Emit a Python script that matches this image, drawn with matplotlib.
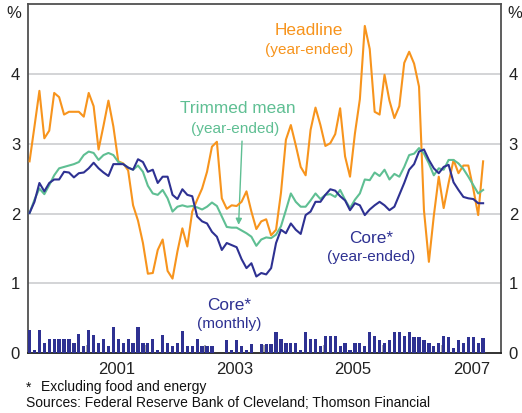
import matplotlib
matplotlib.use("Agg")
import matplotlib.pyplot as plt
import numpy as np

plt.rcParams['font.family'] = ['Liberation Sans', 'DejaVu Sans']

# monthly data, Jan 2000 .. Sep 2007 (index 0 = Jan 2000)
headline = [2.75, 3.25, 3.76, 3.08, 3.19, 3.73, 3.67, 3.42, 3.46, 3.46, 3.46, 3.39,
            3.73, 3.54, 2.92, 3.26, 3.62, 3.25, 2.75, 2.72, 2.62, 2.12, 1.90, 1.58,
            1.14, 1.15, 1.48, 1.63, 1.18, 1.07, 1.46, 1.79, 1.53, 2.03, 2.20, 2.36,
            2.60, 2.96, 3.03, 2.22, 2.07, 2.12, 2.11, 2.17, 2.32, 2.03, 1.78, 1.89,
            1.92, 1.69, 1.77, 2.30, 3.06, 3.27, 2.98, 2.67, 2.55, 3.20, 3.52, 3.27,
            2.97, 3.01, 3.14, 3.51, 2.82, 2.53, 3.15, 3.64, 4.69, 4.36, 3.46, 3.42,
            3.99, 3.62, 3.37, 3.54, 4.16, 4.32, 4.15, 3.82, 2.05, 1.31, 1.97, 2.53,
            2.08, 2.44, 2.77, 2.58, 2.69, 2.69, 2.36, 1.98, 2.75]

trimmed = [2.01, 2.20, 2.36, 2.28, 2.41, 2.55, 2.65, 2.67, 2.69, 2.71, 2.74, 2.84,
           2.89, 2.87, 2.77, 2.84, 2.87, 2.84, 2.74, 2.71, 2.66, 2.63, 2.69, 2.60,
           2.40, 2.29, 2.27, 2.34, 2.22, 2.03, 2.10, 2.12, 2.10, 2.11, 2.09, 2.06,
           2.10, 2.16, 2.11, 1.96, 1.81, 1.80, 1.80, 1.76, 1.72, 1.67, 1.54, 1.63,
           1.66, 1.65, 1.70, 1.82, 2.05, 2.29, 2.17, 2.10, 2.10, 2.19, 2.29, 2.21,
           2.27, 2.28, 2.24, 2.34, 2.20, 2.08, 2.20, 2.29, 2.49, 2.48, 2.59, 2.54,
           2.63, 2.49, 2.57, 2.53, 2.67, 2.84, 2.86, 2.94, 2.86, 2.72, 2.55, 2.65,
           2.63, 2.77, 2.77, 2.72, 2.64, 2.53, 2.41, 2.29, 2.34]

core = [2.01, 2.17, 2.44, 2.32, 2.44, 2.49, 2.49, 2.60, 2.59, 2.52, 2.58, 2.59,
        2.65, 2.73, 2.65, 2.59, 2.54, 2.71, 2.71, 2.71, 2.66, 2.63, 2.78, 2.74,
        2.60, 2.63, 2.44, 2.53, 2.53, 2.27, 2.21, 2.35, 2.27, 2.25, 1.96, 1.89,
        1.86, 1.74, 1.67, 1.48, 1.58, 1.55, 1.52, 1.35, 1.22, 1.29, 1.10, 1.15,
        1.13, 1.22, 1.58, 1.77, 1.72, 1.86, 1.77, 1.71, 1.98, 2.03, 2.17, 2.17,
        2.27, 2.35, 2.33, 2.25, 2.19, 2.05, 2.15, 2.12, 1.98, 2.06, 2.12, 2.17,
        2.12, 2.05, 2.10, 2.27, 2.44, 2.63, 2.71, 2.89, 2.92, 2.77, 2.65, 2.58,
        2.67, 2.70, 2.45, 2.34, 2.24, 2.22, 2.21, 2.15, 2.15]

core_monthly = [0.33, 0.05, 0.33, 0.15, 0.21, 0.21, 0.21, 0.21, 0.21, 0.15, 0.28, 0.10,
                0.33, 0.26, 0.15, 0.21, 0.10, 0.38, 0.21, 0.15, 0.21, 0.15, 0.38, 0.15,
                0.15, 0.20, 0.05, 0.26, 0.15, 0.10, 0.15, 0.32, 0.10, 0.10, 0.20, 0.10,
                0.10, 0.10, 0.00, 0.00, 0.19, 0.05, 0.19, 0.10, 0.05, 0.14, 0.00, 0.14,
                0.14, 0.14, 0.30, 0.20, 0.15, 0.15, 0.15, 0.04, 0.31, 0.21, 0.21, 0.10,
                0.25, 0.25, 0.25, 0.10, 0.15, 0.04, 0.15, 0.15, 0.10, 0.30, 0.25, 0.19,
                0.15, 0.19, 0.30, 0.30, 0.25, 0.30, 0.24, 0.24, 0.19, 0.15, 0.10, 0.15,
                0.25, 0.24, 0.07, 0.19, 0.15, 0.24, 0.24, 0.15, 0.22]

year_labels = ["2001", "2003", "2005", "2007"]

ORANGE = "#F7941D"
GREEN = "#5FBF93"
NAVY = "#2E3192"

months = np.arange(len(headline))
off = 0.37  # months between start of Jan 2000 and first point

fig = plt.figure(figsize=(5.22, 4.13), dpi=100)
ax = fig.add_axes([0.0531, 0.1446, 0.9067, 0.8450])

ax.bar(months, core_monthly, width=0.66, color=NAVY, zorder=3)
ax.plot(months, headline, color=ORANGE, lw=1.5, zorder=4)
ax.plot(months, trimmed, color=GREEN, lw=1.5, zorder=4)
ax.plot(months, core, color=NAVY, lw=1.5, zorder=5)

ax.set_xlim(-off, 96 - off)
ax.set_ylim(0, 5)

for v in [1, 2, 3, 4]:
    ax.axhline(v, color="#C8C9CB", lw=1.1, zorder=1)

# year boundaries as small grey ticks, labels in the middle of each year
ax.set_xticks([12 * k - off for k in range(1, 8)])
ax.set_xticklabels([])
ax.set_xticks([12 * k + 6 - off for k in (1, 3, 5, 7)], minor=True)
ax.set_xticklabels(year_labels, minor=True)
ax.tick_params(axis="x", which="major", direction="in", length=6, width=1.2, color="#999999")
ax.tick_params(axis="x", which="minor", length=0, pad=6.5, labelsize=12, labelcolor="#222222")

ax.set_yticks([0, 1, 2, 3, 4])
ax.set_yticklabels(["0", "1", "2", "3", "4"])
ax.tick_params(axis="y", length=0, labelsize=12, labelcolor="#222222",
               labelleft=True, labelright=True, pad=5.5)

for s in ax.spines.values():
    s.set_color("#505050")
    s.set_linewidth(1.3)
ax.spines["bottom"].set_color("#222222")

# series labels
ax.text(56.65, 4.63, "Headline", color=ORANGE, fontsize=12.4, ha="center", va="center")
ax.text(56.65, 4.35, "(year-ended)", color=ORANGE, fontsize=11.1, ha="center", va="center")
ax.text(42.3, 3.51, "Trimmed mean", color=GREEN, fontsize=12.4, ha="center", va="center")
ax.text(41.7, 3.22, "(year-ended)", color=GREEN, fontsize=11.1, ha="center", va="center")
ax.annotate("", xy=(42.4, 1.84), xytext=(43.1, 3.04),
            arrowprops=dict(arrowstyle="-|>", color=GREEN, lw=1.0,
                            mutation_scale=9, shrinkA=0, shrinkB=0))
ax.text(69.3, 1.65, "Core*", color=NAVY, fontsize=12.4, ha="center", va="center")
ax.text(69.3, 1.375, "(year-ended)", color=NAVY, fontsize=11.1, ha="center", va="center")
ax.text(40.5, 0.69, "Core*", color=NAVY, fontsize=12.4, ha="center", va="center")
ax.text(40.4, 0.42, "(monthly)", color=NAVY, fontsize=11.1, ha="center", va="center")

W, H = 522, 413
fig.text(13.7 / W, 1 - 13.3 / H, "%", fontsize=12, ha="center", va="center", color="#222222")
fig.text(515 / W, 1 - 13 / H, "%", fontsize=12, ha="center", va="center", color="#222222")
fig.text(26 / W, 1 - 387.3 / H, "*", fontsize=10, ha="left", va="center", color="#111111")
fig.text(40.7 / W, 1 - 387.3 / H, "Excluding food and energy", fontsize=10,
         ha="left", va="center", color="#111111")
fig.text(26 / W, 1 - 402.7 / H, "Sources: Federal Reserve Bank of Cleveland; Thomson Financial",
         fontsize=10, ha="left", va="center", color="#111111")

fig.savefig("out.png", dpi=100)
